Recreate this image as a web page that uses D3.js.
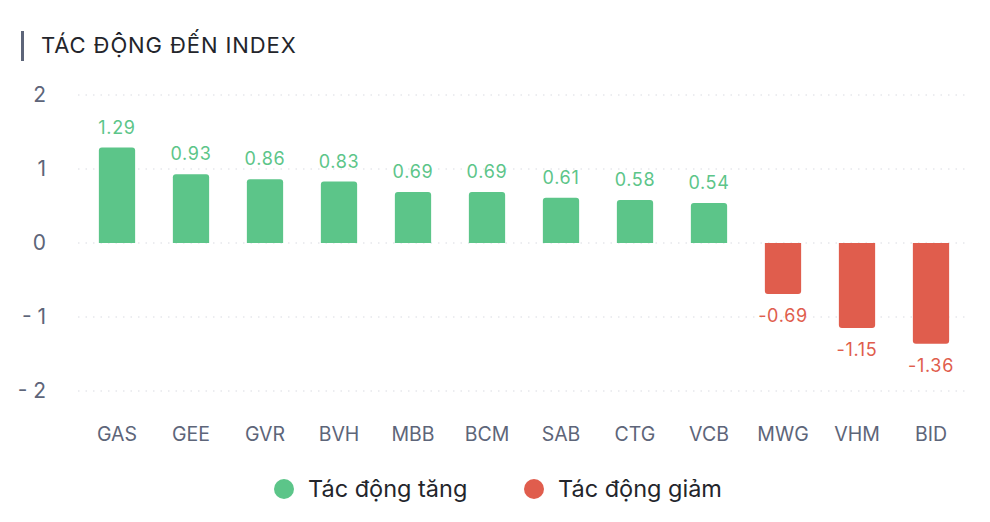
<!DOCTYPE html>
<html>
<head>
<meta charset="utf-8">
<script src="https://cdn.jsdelivr.net/npm/d3@7"></script>
<style>
  body { margin: 0; background: #fff; font-family: Inter, "Noto Sans", sans-serif; }
</style>
</head>
<body>
<svg id="svg"></svg>
<script>
// data
var tickers = ["GAS", "GEE", "GVR", "BVH", "MBB", "BCM", "SAB", "CTG", "VCB", "MWG", "VHM", "BID"];
var impacts = [1.29, 0.93, 0.86, 0.83, 0.69, 0.69, 0.61, 0.58, 0.54, -0.69, -1.15, -1.36];
var yTicks = [2, 1, 0, -1, -2];
var legendLabels = ["Tác động tăng", "Tác động giảm"];

var width = 990, height = 522;
var green = "#5cc589", red = "#e05d4d";

var svg = d3.select("#svg").attr("width", width).attr("height", height);

// title
svg.append("rect").attr("x", 21).attr("y", 31).attr("width", 3).attr("height", 30).attr("fill", "#5d6579");
svg.append("text").attr("x", 41).attr("y", 53)
    .attr("font-size", 22).attr("fill", "#23252b").attr("font-weight", 400)
    .attr("letter-spacing", 0.9)
    .text("TÁC ĐỘNG ĐẾN INDEX");

var x = d3.scaleBand().domain(tickers).range([80, 968]).paddingInner(0.51).paddingOuter(0.255);
var y = d3.scaleLinear().domain([-2, 2]).range([391, 95]);

// grid
svg.append("g").selectAll("line").data(yTicks).enter().append("line")
    .attr("x1", 78).attr("x2", 970)
    .attr("y1", function(d) { return y(d); }).attr("y2", function(d) { return y(d); })
    .attr("stroke", "#d9dce1").attr("stroke-width", 1.2).attr("stroke-dasharray", "1.5,6");

// y axis labels
var yAxis = d3.axisLeft(y).tickValues(yTicks).tickSize(0).tickPadding(0)
    .tickFormat(function(d) { return d < 0 ? "- " + Math.abs(d) : d; });
var yg = svg.append("g").attr("transform", "translate(46,0)").call(yAxis);
yg.select(".domain").remove();
yg.selectAll("text").attr("font-size", 21).attr("fill", "#5d6579").attr("font-family", "Inter, sans-serif");

// x axis labels
var xAxis = d3.axisBottom(x).tickSize(0).tickPadding(0);
var xg = svg.append("g").attr("transform", "translate(0,427)").call(xAxis);
xg.select(".domain").remove();
xg.selectAll("text").attr("font-size", 19.5).attr("fill", "#5d6579").attr("font-family", "Inter, sans-serif");

// bars with rounded outer end
function barPath(d) {
    var x0 = x(d.t), w = x.bandwidth(), r = 3;
    var y0 = y(0), y1 = y(d.v);
    if (d.v >= 0) {
        return "M" + x0 + "," + y0 + "V" + (y1 + r) + "Q" + x0 + "," + y1 + " " + (x0 + r) + "," + y1 +
            "H" + (x0 + w - r) + "Q" + (x0 + w) + "," + y1 + " " + (x0 + w) + "," + (y1 + r) + "V" + y0 + "Z";
    }
    return "M" + x0 + "," + y0 + "V" + (y1 - r) + "Q" + x0 + "," + y1 + " " + (x0 + r) + "," + y1 +
        "H" + (x0 + w - r) + "Q" + (x0 + w) + "," + y1 + " " + (x0 + w) + "," + (y1 - r) + "V" + y0 + "Z";
}

var data = tickers.map(function(t, i) { return { t: t, v: impacts[i] }; });

svg.append("g").selectAll("path").data(data).enter().append("path")
    .attr("d", barPath)
    .attr("fill", function(d) { return d.v >= 0 ? green : red; });

svg.append("g").selectAll("text").data(data).enter().append("text")
    .attr("x", function(d) { return x(d.t) + x.bandwidth() / 2; })
    .attr("y", function(d) { return d.v >= 0 ? y(d.v) - 14 : y(d.v) + 28; })
    .attr("text-anchor", "middle")
    .attr("font-size", 18)
    .attr("letter-spacing", 0.7)
    .attr("fill", function(d) { return d.v >= 0 ? green : red; })
    .text(function(d) { return d.v.toFixed(2); });

// legend
var legendX = [284, 534], legendColors = [green, red];
var lg = svg.append("g").selectAll("g").data(legendLabels).enter().append("g")
    .attr("transform", function(d, i) { return "translate(" + legendX[i] + ",489)"; });
lg.append("circle").attr("r", 10).attr("fill", function(d, i) { return legendColors[i]; });
lg.append("text").attr("x", 24).attr("dy", "0.35em")
    .attr("font-size", 23.5).attr("fill", "#23252b")
    .text(function(d) { return d; });
</script>
</body>
</html>
